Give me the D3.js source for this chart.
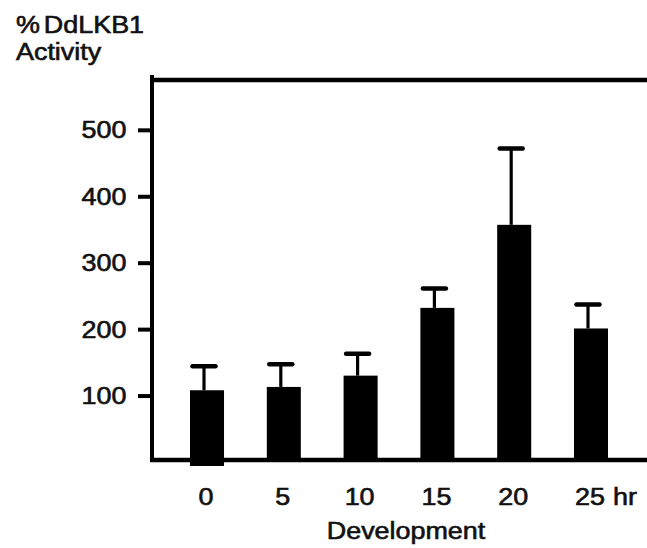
<!DOCTYPE html>
<html>
<head>
<meta charset="utf-8">
<script src="https://cdn.jsdelivr.net/npm/d3@7"></script>
<style>
  body { margin: 0; background: #fff; }
  text { font-family: "Liberation Sans", Arial, sans-serif; font-weight: normal; fill: #111; stroke: #111; stroke-width: 0.6px; }
</style>
</head>
<body>
<div id="chart"></div>
<script>
// data
var hours = ["0", "5", "10", "15", "20", "25"];
var activity = [108, 113, 130, 232, 357, 201];
var errors = [36, 34, 33, 29, 115, 36];
var baseline = [-6, 0, 0, 0, 0, 0];
var yTicks = [100, 200, 300, 400, 500];

var margin = {top: 80, right: 0, bottom: 86, left: 152},
    width = 647 - margin.left - margin.right,
    height = 548 - margin.top - margin.bottom;

var fontSize = 23,
    stretch = "scale(1.17,1)";   // the figure's lettering is wide

var svg = d3.select("#chart").append("svg")
    .attr("width", 647)
    .attr("height", 548);

var vis = svg.append("g")
    .attr("transform", "translate(" + margin.left + "," + margin.top + ")");

var x = d3.scaleBand()
    .domain(hours)
    .range([38, 456])
    .paddingInner(0.557)
    .paddingOuter(0);

var y = d3.scaleLinear()
    .domain([0, 575])
    .range([height, 0]);

var data = hours.map(function(h, i) {
    return {hour: h, value: activity[i], err: errors[i], base: baseline[i]};
});

// bars
vis.selectAll("rect.bar").data(data)
    .enter().append("rect")
        .attr("class", "bar")
        .attr("x", function(d) { return x(d.hour); })
        .attr("y", function(d) { return y(d.value); })
        .attr("width", x.bandwidth())
        .attr("height", function(d) { return y(d.base) - y(d.value); })
        .attr("fill", "#000");

// error bars (upper only)
var cx = function(d) { return x(d.hour) + x.bandwidth() / 2 - 3; };
vis.selectAll("line.stem").data(data)
    .enter().append("line")
        .attr("class", "stem")
        .attr("x1", cx).attr("x2", cx)
        .attr("y1", function(d) { return y(d.value); })
        .attr("y2", function(d) { return y(d.value + d.err); })
        .attr("stroke", "#000")
        .attr("stroke-width", 3.2);
vis.selectAll("line.cap").data(data)
    .enter().append("line")
        .attr("class", "cap")
        .attr("x1", function(d) { return cx(d) - 11.5; })
        .attr("x2", function(d) { return cx(d) + 11.5; })
        .attr("y1", function(d) { return y(d.value + d.err); })
        .attr("y2", function(d) { return y(d.value + d.err); })
        .attr("stroke", "#000")
        .attr("stroke-width", 4.5)
        .attr("stroke-linecap", "round");

// frame: top line, left axis, bottom axis
vis.append("line")
    .attr("x1", 0).attr("x2", width)
    .attr("y1", 0).attr("y2", 0)
    .attr("stroke", "#000").attr("stroke-width", 4.5);

var yAxis = d3.axisLeft(y)
    .tickValues(yTicks)
    .tickSize(14);

var gy = vis.append("g").call(yAxis);
gy.select(".domain").remove();
gy.selectAll(".tick line").attr("stroke", "#000").attr("stroke-width", 4);
gy.selectAll(".tick text")
    .attr("font-size", fontSize)
    .attr("font-family", null)
    .attr("x", 0)
    .attr("dy", "0.35em")
    .attr("transform", "translate(-25.5,0) " + stretch);

vis.append("line")
    .attr("x1", 0).attr("x2", 0)
    .attr("y1", -5).attr("y2", y(0))
    .attr("stroke", "#000").attr("stroke-width", 4);

vis.append("line")
    .attr("x1", -2).attr("x2", width)
    .attr("y1", y(0) - 2).attr("y2", y(0) - 2)
    .attr("stroke", "#000").attr("stroke-width", 4.5);

var xAxis = d3.axisBottom(x)
    .tickSize(0);

var gx = vis.append("g")
    .attr("transform", "translate(0," + y(0) + ")")
    .call(xAxis);
gx.select(".domain").remove();
gx.selectAll(".tick text")
    .attr("font-size", fontSize)
    .attr("font-family", null)
    .attr("y", 0)
    .attr("dy", 0)
    .attr("transform", "translate(-1,43) " + stretch);

vis.append("text")
    .attr("transform", "translate(" + (x("25") + x.bandwidth() / 2 + 22) + "," + (y(0) + 43) + ") " + stretch)
    .attr("font-size", fontSize)
    .text("hr");

// axis titles
vis.append("text")
    .attr("transform", "translate(" + ((x("0") + x("25") + x.bandwidth()) / 2 + 7) + "," + (y(0) + 77) + ") " + stretch)
    .attr("text-anchor", "middle")
    .attr("font-size", fontSize)
    .text("Development");

svg.append("text")
    .attr("transform", "translate(16,33) " + stretch)
    .attr("font-size", fontSize)
    .attr("word-spacing", -3)
    .text("% DdLKB1");
svg.append("text")
    .attr("transform", "translate(16,60) " + stretch)
    .attr("font-size", fontSize)
    .text("Activity");
</script>
</body>
</html>
